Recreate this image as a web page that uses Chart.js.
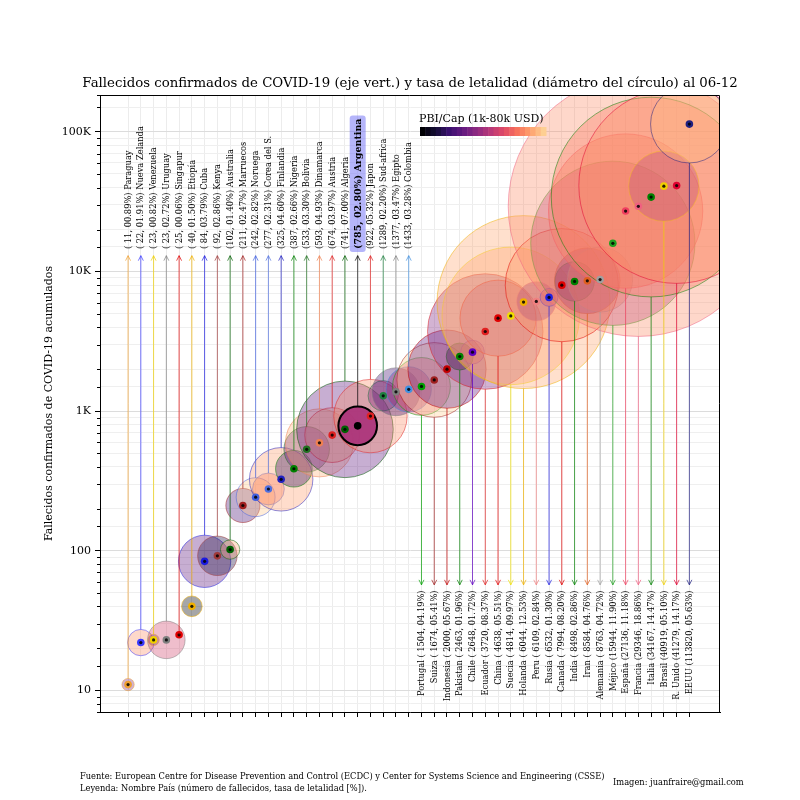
<!DOCTYPE html>
<html>
<head>
<meta charset="utf-8">
<script src="https://cdn.jsdelivr.net/npm/chart.js@4/dist/chart.umd.min.js"></script>
<style>
  html, body { margin: 0; background: #fff; }
</style>
</head>
<body>
<canvas id="myChart" width="800" height="800"></canvas>
<script>
// data (deaths, case fatality %), ordered by deaths
const countries = ['Paraguay', 'Nueva Zelanda', 'Venezuela', 'Uruguay', 'Singapur', 'Etiopía', 'Cuba', 'Kenya',
    'Australia', 'Marruecos', 'Noruega', 'Corea del S.', 'Finlandia', 'Nigeria', 'Bolivia', 'Dinamarca',
    'Austria', 'Algeria', 'Argentina', 'Japon', 'Sud-africa', 'Egipto', 'Colombia',
    'Portugal', 'Suiza', 'Indonesia', 'Pakistan', 'Chile', 'Ecuador', 'China', 'Suecia', 'Holanda', 'Peru',
    'Rusia', 'Canada', 'India', 'Iran', 'Alemania', 'Méjico', 'España', 'Francia', 'Italia', 'Brasil',
    'R. Unido', 'EEUU'];
const deaths = [11, 22, 23, 23, 25, 40, 84, 92, 102, 211, 242, 277, 325, 387, 533, 593, 674, 741, 785, 922,
    1289, 1377, 1433, 1504, 1674, 2000, 2463, 2648, 3720, 4638, 4814, 6044, 6109, 6532, 7994, 8498, 8584,
    8763, 15944, 27136, 29346, 34167, 40919, 41279, 113820];
const lethality = [0.89, 1.91, 0.82, 2.72, 0.06, 1.50, 3.79, 2.86, 1.40, 2.47, 2.82, 2.31, 4.60, 2.66, 3.30,
    4.93, 3.97, 7.00, 2.80, 5.32, 2.20, 3.47, 3.28, 4.19, 5.41, 5.67, 1.96, 1.72, 8.37, 5.51, 9.97, 12.53,
    2.84, 1.30, 8.20, 2.86, 4.76, 4.72, 11.90, 11.18, 18.86, 14.47, 5.10, 14.17, 5.63];
// GDP per capita in thousands of USD
const gdpPerCap = [5.4, 42, 3, 16, 65, 0.9, 4, 1.8, 55, 3.2, 75, 31, 48, 2.2, 3.5, 60, 50, 4, 10, 40, 6,
    3, 6.4, 23, 82, 4.1, 1.3, 15, 6.2, 10, 52, 52, 6.9, 11.5, 46, 2.1, 5.5, 46, 9.9, 30, 41, 33, 8.7, 42, 65];
const countryColors = ['#f0a030', '#3a3aff', '#f0d000', '#808080', '#e00000', '#f0b000', '#1a1ae0', '#a03a3a',
    '#006000', '#a02020', '#4060e0', '#5070e0', '#2020c0', '#008000', '#207020', '#f08050', '#e02020',
    '#006000', '#000000', '#e02020', '#208040', '#808080', '#4090e0', '#00a000', '#a02020', '#c00000',
    '#008000', '#6000c0', '#e02020', '#e00000', '#f0e000', '#f0b000', '#f08080', '#2020e0', '#e00000',
    '#008000', '#e06020', '#a0a0a0', '#20a020', '#f04060', '#f06080', '#008000', '#f0d000', '#e00030', '#202080'];
const yTickLabels = { 10: '10', 100: '100', 1000: '1K', 10000: '10K', 100000: '100K' };
const highlighted = 'Argentina';
const firstBottomLabel = 23;

const RADIUS_PER_PCT = 6.9;
const ARROW_TOP = 13000, LABEL_TOP = 14500, ARROW_BOTTOM = 57, LABEL_BOTTOM = 52;
const CMAP_TOP = 0.9; // the colour bar stops before the pale end of magma
const SERIF = '"DejaVu Serif", serif';

const MAGMA = ['#000004', '#140e36', '#3b0f70', '#641a80', '#8c2981', '#b73779', '#de4968', '#f7705c',
    '#fe9f6d', '#fecf92', '#fcfdbf'];

function hexRgb(h) {
    return [parseInt(h.slice(1, 3), 16), parseInt(h.slice(3, 5), 16), parseInt(h.slice(5, 7), 16)];
}
function magma(t) {
    t = Math.max(0, Math.min(1, t)) * 10;
    const i = Math.min(9, Math.floor(t)), f = t - i;
    const a = hexRgb(MAGMA[i]), b = hexRgb(MAGMA[i + 1]);
    return a.map((v, k) => Math.round(v + (b[k] - v) * f));
}
function rgba(rgb, a) {
    return `rgba(${rgb[0]},${rgb[1]},${rgb[2]},${a})`;
}
function gdpColor(g, a) {
    const t = Math.max(0, Math.min(1, Math.log(g) / Math.log(80)));
    return rgba(magma(t * CMAP_TOP), a);
}
function isMajor(v) {
    const l = Math.log10(v);
    return Math.abs(l - Math.round(l)) < 1e-9;
}
function label(i) {
    const pct = lethality[i].toFixed(2).padStart(5, '0');
    if (i < firstBottomLabel) return `(${String(deaths[i]).padStart(3, ' ')}, ${pct}%) ${countries[i]}`;
    return `${countries[i]} (${String(deaths[i]).padStart(5, ' ')}, ${pct}%)`;
}

const hi = countries.indexOf(highlighted);
const points = countries.map((c, i) => ({ x: i, y: deaths[i] }));

const annotations = {
    id: 'annotations',
    afterDatasetsDraw(chart) {
        const { ctx, scales: { x, y } } = chart;
        const topTip = y.getPixelForValue(ARROW_TOP), botTip = y.getPixelForValue(ARROW_BOTTOM);
        ctx.save();
        ctx.lineWidth = 1;
        countries.forEach((c, i) => {
            const px = x.getPixelForValue(i), py = y.getPixelForValue(deaths[i]);
            const r = lethality[i] * RADIUS_PER_PCT;
            const up = i < firstBottomLabel;
            const start = up ? py - r : py + r;
            const tip = up ? topTip : botTip;
            const dir = up ? -1 : 1;
            ctx.strokeStyle = rgba(hexRgb(countryColors[i]), 0.7);
            ctx.beginPath();
            ctx.moveTo(px, start);
            ctx.lineTo(px, tip);
            ctx.moveTo(px - 2.5, tip - dir * 5);
            ctx.lineTo(px, tip);
            ctx.lineTo(px + 2.5, tip - dir * 5);
            ctx.stroke();
        });
        ctx.restore();
    },
    afterDraw(chart) {
        const { ctx, chartArea: a, scales: { x, y } } = chart;
        ctx.save();
        // top and right frame
        ctx.strokeStyle = '#000';
        ctx.lineWidth = 1;
        ctx.beginPath();
        ctx.moveTo(a.left, a.top + 0.5);
        ctx.lineTo(a.right - 0.5, a.top + 0.5);
        ctx.lineTo(a.right - 0.5, a.bottom);
        ctx.stroke();
        // minor y ticks
        ctx.beginPath();
        y.ticks.forEach(t => {
            if (isMajor(t.value)) return;
            const py = Math.round(y.getPixelForValue(t.value)) + 0.5;
            ctx.moveTo(a.left - 3, py);
            ctx.lineTo(a.left, py);
        });
        ctx.stroke();

        // country labels
        ctx.fillStyle = '#000';
        ctx.textBaseline = 'middle';
        countries.forEach((c, i) => {
            const up = i < firstBottomLabel;
            const px = x.getPixelForValue(i);
            const py = y.getPixelForValue(up ? LABEL_TOP : LABEL_BOTTOM);
            ctx.save();
            ctx.translate(px, py);
            ctx.rotate(-Math.PI / 2);
            ctx.textAlign = up ? 'left' : 'right';
            const txt = label(i);
            if (i === hi) {
                ctx.font = 'bold 9.5px ' + SERIF;
                const w = ctx.measureText(txt).width;
                ctx.fillStyle = 'rgba(120,120,245,0.55)';
                ctx.beginPath();
                ctx.roundRect(-3, -8, w + 6, 16, 3);
                ctx.fill();
                ctx.fillStyle = '#000';
            } else {
                ctx.font = '8.3px ' + SERIF;
            }
            ctx.fillText(txt, 0, 0.5);
            ctx.restore();
        });

        // colour bar legend
        ctx.textAlign = 'left';
        ctx.font = '11px ' + SERIF;
        ctx.fillText('PBI/Cap (1k-80k USD)', 419, 119);
        const steps = 24, bw = 126 / steps;
        for (let k = 0; k < steps; k++) {
            ctx.fillStyle = rgba(magma(k / (steps - 1) * CMAP_TOP), 1);
            ctx.fillRect(420 + k * bw, 127, bw + 0.5, 9);
        }

        // titles and footer
        ctx.fillStyle = '#000';
        ctx.textAlign = 'center';
        ctx.font = '13.3px ' + SERIF;
        ctx.fillText('Fallecidos confirmados de COVID-19 (eje vert.) y tasa de letalidad (diámetro del círculo) al 06-12', (a.left + a.right) / 2, 84);
        ctx.save();
        ctx.translate(49, (a.top + a.bottom) / 2);
        ctx.rotate(-Math.PI / 2);
        ctx.font = '11px ' + SERIF;
        ctx.fillText('Fallecidos confirmados de COVID-19 acumulados', 0, 0);
        ctx.restore();
        ctx.textAlign = 'left';
        ctx.font = '8.3px ' + SERIF;
        ctx.fillText('Fuente: European Centre for Disease Prevention and Control (ECDC) y Center for Systems Science and Engineering (CSSE)', 80, 777);
        ctx.fillText('Leyenda: Nombre País (número de fallecidos, tasa de letalidad [%]).', 80, 789);
        ctx.fillText('Imagen: juanfraire@gmail.com', 613, 783);
        ctx.restore();
    }
};

const ctx = document.getElementById('myChart').getContext('2d');
const chart = new Chart(ctx, {
    data: {
        datasets: [
            {
                // black centre of the country dots
                type: 'scatter',
                order: 0,
                data: points,
                pointRadius: 1.6,
                pointBackgroundColor: 'rgba(0,0,0,0.85)',
                pointBorderWidth: 0,
                clip: 0
            },
            {
                type: 'scatter',
                order: 1,
                data: points,
                pointRadius: 3.8,
                pointBackgroundColor: countryColors,
                pointBorderWidth: 0,
                clip: 0
            },
            {
                type: 'bubble',
                order: 2,
                data: [{ x: hi, y: deaths[hi], r: lethality[hi] * RADIUS_PER_PCT }],
                backgroundColor: gdpColor(gdpPerCap[hi], 0.9),
                borderColor: '#000',
                borderWidth: 2,
                clip: 0
            },
            {
                type: 'bubble',
                order: 3,
                data: countries.map((c, i) => ({ x: i, y: deaths[i], r: lethality[i] * RADIUS_PER_PCT })),
                backgroundColor: gdpPerCap.map(g => gdpColor(g, 0.35)),
                borderColor: countryColors.map(c => rgba(hexRgb(c), 0.5)),
                borderWidth: 1,
                clip: 0
            }
        ]
    },
    options: {
        responsive: false,
        animation: false,
        devicePixelRatio: 1,
        events: [],
        layout: { autoPadding: false, padding: { top: 95, right: 80, bottom: 80, left: 0 } },
        plugins: { legend: { display: false }, tooltip: { enabled: false }, title: { display: false } },
        scales: {
            x: {
                type: 'linear',
                min: -2.2,
                max: 46.4,
                afterBuildTicks: s => { s.ticks = countries.map((c, i) => ({ value: i })); },
                afterFit: s => { s.height = 8; },
                ticks: { callback: () => '', autoSkip: false, maxRotation: 0 },
                grid: { color: '#ececec', tickColor: '#000', tickLength: 5 },
                border: { color: '#000', width: 1 }
            },
            y: {
                type: 'logarithmic',
                min: 7,
                max: 184000,
                afterFit: s => { s.width = 100; },
                ticks: {
                    autoSkip: false,
                    callback: v => yTickLabels[v] ?? '',
                    font: { family: SERIF, size: 11 },
                    color: '#000',
                    padding: 4
                },
                grid: {
                    color: c => (c.tick && isMajor(c.tick.value)) ? '#dcdcdc' : '#efefef',
                    tickColor: c => (c.tick && isMajor(c.tick.value)) ? '#000' : 'rgba(0,0,0,0)',
                    tickLength: 5
                },
                border: { color: '#000', width: 1 }
            }
        }
    },
    plugins: [annotations]
});
</script>
</body>
</html>
